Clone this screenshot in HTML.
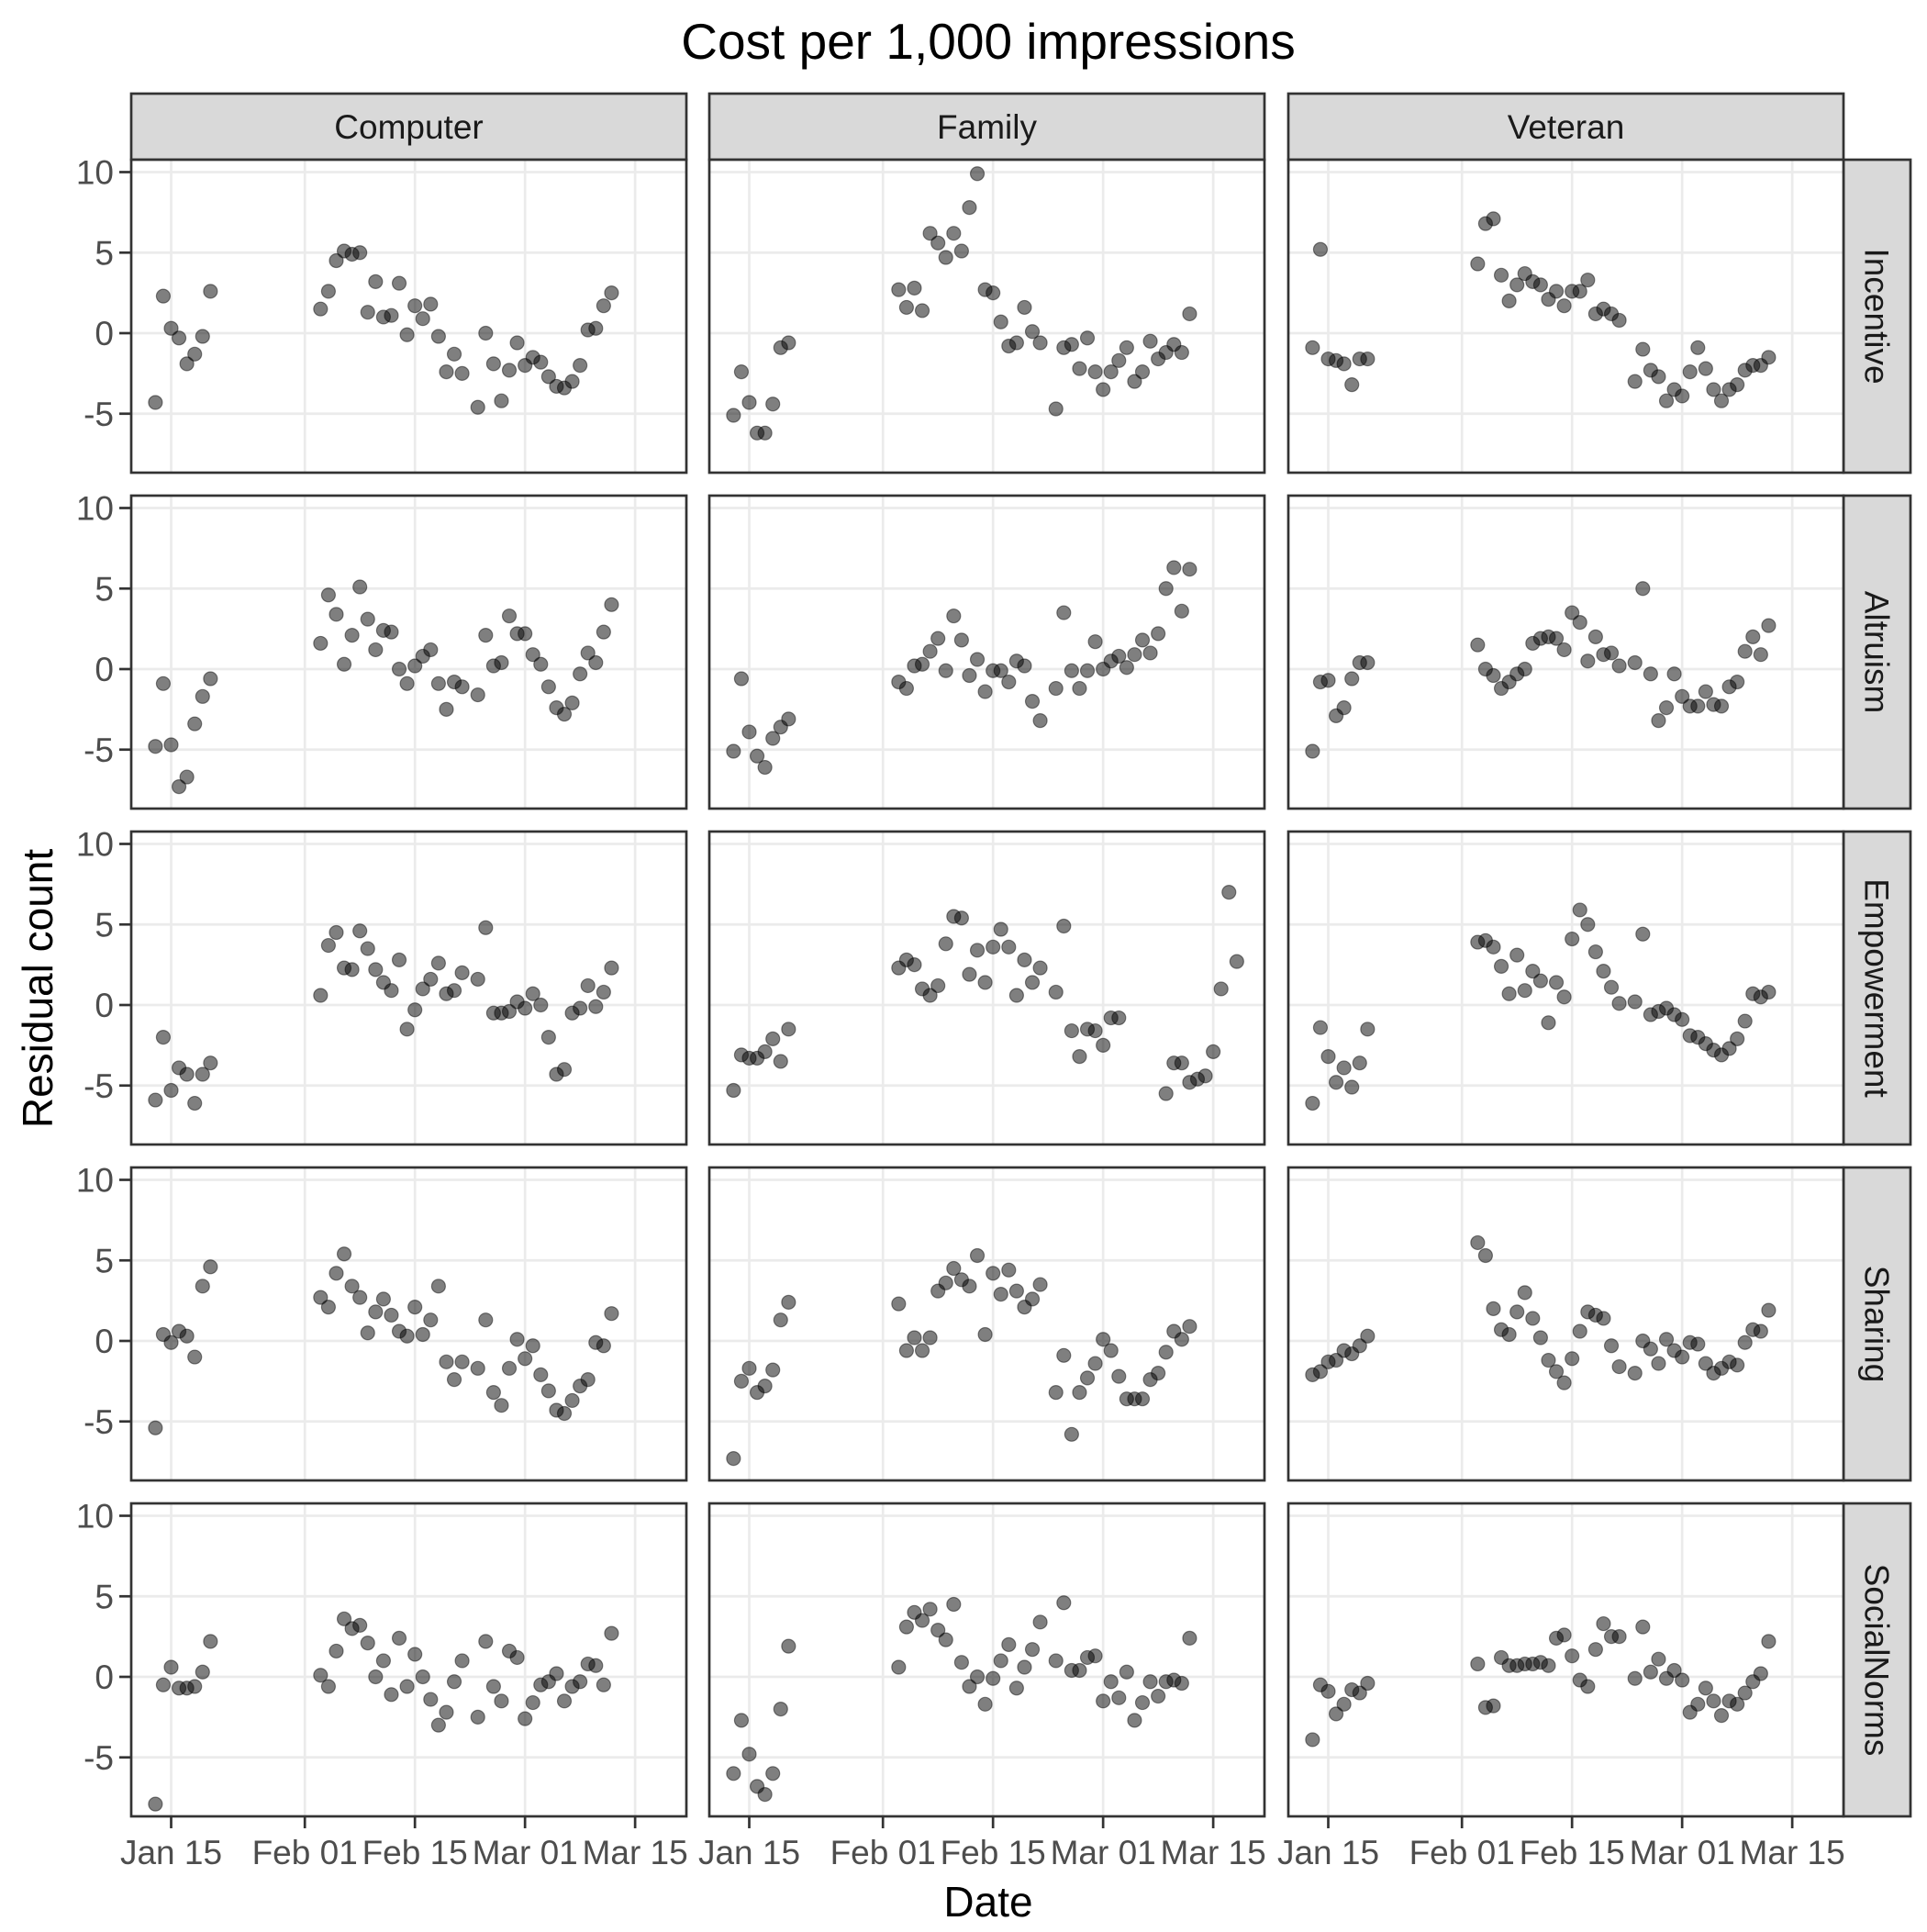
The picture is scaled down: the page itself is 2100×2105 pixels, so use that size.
<!DOCTYPE html>
<html><head><meta charset="utf-8"><style>
html,body{margin:0;padding:0;background:#fff;}
svg text{font-family:"Liberation Sans",Arial,sans-serif;}
</style></head><body>
<svg id="chart" xmlns="http://www.w3.org/2000/svg" width="2100" height="2100" viewBox="0 0 2100 2100">
<rect width="2100" height="2100" fill="#fff"/>
<text x="1077" y="64" font-size="55" text-anchor="middle" fill="#000">Cost per 1,000 impressions</text>
<text x="1077" y="2088" font-size="46" text-anchor="middle" fill="#000">Date</text>
<text x="0" y="0" font-size="46" text-anchor="middle" fill="#000" transform="translate(57,1077) rotate(-90)">Residual count</text>
<g id="panels"></g>
</svg>
<script>
const colNames = ['Computer','Family','Veteran'];
const rowNames = ['Incentive','Altruism','Empowerment','Sharing','SocialNorms'];
const yTicks = [-5,0,5,10];
const xTickDays = [0,17,31,45,59];
const xTickLabels = ['Jan 15','Feb 01','Feb 15','Mar 01','Mar 15'];
const stdDays = [-2,-1,0,1,2,3,4,5,19,20,21,22,23,24,25,26,27,28,29,30,31,32,33,34,35,36,37,39,40,41,42,43,44,45,46,47,48,49,50,51,52,53,54,55,56];
const famEmpDays = [-2,-1,0,1,2,3,4,5,19,20,21,22,23,24,25,26,27,28,29,30,31,32,33,34,35,36,37,39,40,41,42,43,44,45,46,47,53,54,55,56,57,58,59,60,61,62];

const computerIncentive = [-4.3,2.3,0.3,-0.3,-1.9,-1.3,-0.2,2.6, 1.5,2.6,4.5,5.1,4.9,5.0,1.3,3.2,1.0,1.1,3.1,-0.1,1.7,0.9,1.8,-0.2,-2.4,-1.3,-2.5, -4.6,0.0,-1.9,-4.2,-2.3,-0.6,-2.0,-1.5,-1.8,-2.7,-3.3,-3.4,-3.0,-2.0,0.2,0.3,1.7,2.5];
const computerAltruism = [-4.8,-0.9,-4.7,-7.3,-6.7,-3.4,-1.7,-0.6, 1.6,4.6,3.4,0.3,2.1,5.1,3.1,1.2,2.4,2.3,0,-0.9,0.2,0.8,1.2,-0.9,-2.5,-0.8,-1.1, -1.6,2.1,0.2,0.4,3.3,2.2,2.2,0.9,0.3,-1.1,-2.4,-2.8,-2.1,-0.3,1.0,0.4,2.3,4.0];
const computerEmpowerment = [-5.9,-2.0,-5.3,-3.9,-4.3,-6.1,-4.3,-3.6, 0.6,3.7,4.5,2.3,2.2,4.6,3.5,2.2,1.4,0.9,2.8,-1.5,-0.3,1.0,1.6,2.6,0.7,0.9,2.0, 1.6,4.8,-0.5,-0.5,-0.4,0.2,-0.2,0.7,0,-2.0,-4.3,-4.0,-0.5,-0.2,1.2,-0.1,0.8,2.3];
const computerSharing = [-5.4,0.4,-0.1,0.6,0.3,-1.0,3.4,4.6, 2.7,2.1,4.2,5.4,3.4,2.7,0.5,1.8,2.6,1.6,0.6,0.3,2.1,0.4,1.3,3.4,-1.3,-2.4,-1.3, -1.7,1.3,-3.2,-4.0,-1.7,0.1,-1.1,-0.3,-2.1,-3.1,-4.3,-4.5,-3.7,-2.8,-2.4,-0.1,-0.3,1.7];
const computerSocialNorms = [-7.9,-0.5,0.6,-0.7,-0.7,-0.6,0.3,2.2, 0.1,-0.6,1.6,3.6,3.0,3.2,2.1,0,1.0,-1.1,2.4,-0.6,1.4,0,-1.4,-3.0,-2.2,-0.3,1.0, -2.5,2.2,-0.6,-1.5,1.6,1.2,-2.6,-1.6,-0.5,-0.3,0.2,-1.5,-0.6,-0.3,0.8,0.7,-0.5,2.7];
const familyIncentive = [-5.1,-2.4,-4.3,-6.2,-6.2,-4.4,-0.9,-0.6, 2.7,1.6,2.8,1.4,6.2,5.6,4.7,6.2,5.1,7.8,9.9,2.7,2.5,0.7,-0.8,-0.6,1.6,0.1,-0.6, -4.7,-0.9,-0.7,-2.2,-0.3,-2.4,-3.5,-2.4,-1.7,-0.9,-3.0,-2.4,-0.5,-1.6,-1.2,-0.7,-1.2,1.2];
const familyAltruism = [-5.1,-0.6,-3.9,-5.4,-6.1,-4.3,-3.6,-3.1, -0.8,-1.2,0.2,0.3,1.1,1.9,-0.1,3.3,1.8,-0.4,0.6,-1.4,-0.1,-0.1,-0.8,0.5,0.2,-2.0,-3.2, -1.2,3.5,-0.1,-1.2,-0.1,1.7,0,0.5,0.8,0.1,0.9,1.8,1.0,2.2,5.0,6.3,3.6,6.2];
const familyEmpowerment = [-5.3,-3.1,-3.3,-3.3,-2.9,-2.1,-3.5,-1.5, 2.3,2.8,2.5,1.0,0.6,1.2,3.8,5.5,5.4,1.9,3.4,1.4,3.6,4.7,3.6,0.6,2.8,1.4,2.3, 0.8,4.9,-1.6,-3.2,-1.5,-1.6,-2.5,-0.8,-0.8, -5.5,-3.6,-3.6,-4.8,-4.6,-4.4,-2.9,1.0,7.0,2.7];
const familySharing = [-7.3,-2.5,-1.7,-3.2,-2.8,-1.8,1.3,2.4, 2.3,-0.6,0.2,-0.6,0.2,3.1,3.6,4.5,3.8,3.4,5.3,0.4,4.2,2.9,4.4,3.1,2.1,2.6,3.5, -3.2,-0.9,-5.8,-3.2,-2.3,-1.4,0.1,-0.6,-2.2,-3.6,-3.6,-3.6,-2.4,-2.0,-0.7,0.6,0.1,0.9];
const familySocialNorms = [-6.0,-2.7,-4.8,-6.8,-7.3,-6.0,-2.0,1.9, 0.6,3.1,4.0,3.5,4.2,2.9,2.3,4.5,0.9,-0.6,0,-1.7,-0.1,1.0,2.0,-0.7,0.6,1.7,3.4, 1.0,4.6,0.4,0.4,1.2,1.3,-1.5,-0.3,-1.3,0.3,-2.7,-1.6,-0.3,-1.2,-0.3,-0.2,-0.4,2.4];
const veteranIncentive = [-0.9,5.2,-1.6,-1.7,-1.9,-3.2,-1.6,-1.6, 4.3,6.8,7.1,3.6,2.0,3.0,3.7,3.2,3.0,2.1,2.6,1.7,2.6,2.6,3.3,1.2,1.5,1.2,0.8, -3.0,-1.0,-2.3,-2.7,-4.2,-3.5,-3.9,-2.4,-0.9,-2.2,-3.5,-4.2,-3.5,-3.2,-2.3,-2.0,-2.0,-1.5];
const veteranAltruism = [-5.1,-0.8,-0.7,-2.9,-2.4,-0.6,0.4,0.4, 1.5,0,-0.4,-1.2,-0.8,-0.3,0,1.6,1.9,2.0,1.9,1.2,3.5,2.9,0.5,2.0,0.9,1.0,0.2, 0.4,5.0,-0.3,-3.2,-2.4,-0.3,-1.7,-2.3,-2.3,-1.4,-2.2,-2.3,-1.1,-0.8,1.1,2.0,0.9,2.7];
const veteranEmpowerment = [-6.1,-1.4,-3.2,-4.8,-3.9,-5.1,-3.6,-1.5, 3.9,4.0,3.6,2.4,0.7,3.1,0.9,2.1,1.5,-1.1,1.4,0.5,4.1,5.9,5.0,3.3,2.1,1.1,0.1, 0.2,4.4,-0.6,-0.4,-0.2,-0.6,-0.9,-1.9,-2.0,-2.4,-2.8,-3.1,-2.7,-2.1,-1.0,0.7,0.5,0.8];
const veteranSharing = [-2.1,-1.9,-1.3,-1.2,-0.6,-0.8,-0.3,0.3, 6.1,5.3,2.0,0.7,0.4,1.8,3.0,1.4,0.2,-1.2,-1.9,-2.6,-1.1,0.6,1.8,1.6,1.4,-0.3,-1.6, -2.0,0,-0.5,-1.4,0.1,-0.6,-1.0,-0.1,-0.2,-1.4,-2.0,-1.7,-1.3,-1.5,-0.1,0.7,0.6,1.9];
const veteranSocialNorms = [-3.9,-0.5,-0.9,-2.3,-1.7,-0.8,-1.0,-0.4, 0.8,-1.9,-1.8,1.2,0.7,0.7,0.8,0.8,0.9,0.7,2.4,2.6,1.3,-0.2,-0.6,1.7,3.3,2.5,2.5, -0.1,3.1,0.3,1.1,-0.1,0.4,-0.2,-2.2,-1.7,-0.7,-1.5,-2.4,-1.5,-1.7,-1.0,-0.3,0.2,2.2];

const panelValues = [
  [computerIncentive, familyIncentive, veteranIncentive],
  [computerAltruism, familyAltruism, veteranAltruism],
  [computerEmpowerment, familyEmpowerment, veteranEmpowerment],
  [computerSharing, familySharing, veteranSharing],
  [computerSocialNorms, familySocialNorms, veteranSocialNorms]
];
const panelDays = [
  [stdDays, stdDays, stdDays],
  [stdDays, stdDays, stdDays],
  [stdDays, famEmpDays, stdDays],
  [stdDays, stdDays, stdDays],
  [stdDays, stdDays, stdDays]
];

const NS = 'http://www.w3.org/2000/svg';
const root = document.getElementById('panels');
const colLeft = [143, 773, 1404], PW = 605;
const rowTop = [174, 540, 906, 1272, 1638], PH = 341;
const stripX = colLeft[2] + PW;
const axisBottom = rowTop[4] + PH;
function xScale(c, d){ return colLeft[c] + 43.5 + d * 8.57; }
function yScale(r, v){ return rowTop[r] + 189 - v * 17.55; }
function mk(tag, attrs, parent){
  const e = document.createElementNS(NS, tag);
  for (const k in attrs) e.setAttribute(k, attrs[k]);
  parent.appendChild(e); return e;
}

colNames.forEach((name, c) => {
  const g = mk('g', {}, root);
  
  
  mk('rect', {x: colLeft[c], y: 102, width: PW, height: 72, fill: '#d9d9d9', stroke: '#333', 'stroke-width': 2.7}, g);
  const t = mk('text', {x: colLeft[c] + PW/2, y: 151, 'font-size': 37, 'text-anchor': 'middle', fill: '#1a1a1a'}, g);
  t.textContent = name;
});
rowNames.forEach((name, r) => {
  const g = mk('g', {}, root);
  
  
  mk('rect', {x: stripX, y: rowTop[r], width: 73, height: PH, fill: '#d9d9d9', stroke: '#333', 'stroke-width': 2.7}, g);
  const cx = stripX + 36.5, cy = rowTop[r] + PH/2;
  const t = mk('text', {x: 0, y: 0, 'font-size': 37, 'text-anchor': 'middle', fill: '#1a1a1a', transform: 'translate(' + (cx - 13) + ',' + cy + ') rotate(90)'}, g);
  t.textContent = name;
});

for (let r = 0; r < 5; r++) {
  for (let c = 0; c < 3; c++) {
    const g = mk('g', {}, root);
    
    
    mk('rect', {x: colLeft[c], y: rowTop[r], width: PW, height: PH, fill: '#fff'}, g);
    yTicks.forEach(v => {
      const y = yScale(r, v);
      const gl = mk('line', {x1: colLeft[c], x2: colLeft[c] + PW, y1: y, y2: y, stroke: '#ebebeb', 'stroke-width': 2.7}, g);
      
      
    });
    xTickDays.forEach(d => {
      const x = xScale(c, d);
      const gl = mk('line', {x1: x, x2: x, y1: rowTop[r], y2: rowTop[r] + PH, stroke: '#ebebeb', 'stroke-width': 2.7}, g);
      
      
    });
    const vals = panelValues[r][c], days = panelDays[r][c];
    vals.forEach((v, i) => {
      const pt = mk('circle', {cx: xScale(c, days[i]), cy: yScale(r, v), r: 7.5, fill: 'rgba(0,0,0,0.5)', stroke: 'rgba(0,0,0,0.45)', 'stroke-width': 1.2}, g);
      
      
    });
    mk('rect', {x: colLeft[c], y: rowTop[r], width: PW, height: PH, fill: 'none', stroke: '#333', 'stroke-width': 2.7}, g);
    if (c === 0) {
      yTicks.forEach(v => {
        const y = yScale(r, v);
        mk('line', {x1: 130, x2: 143, y1: y, y2: y, stroke: '#333', 'stroke-width': 2.7}, g);
        const t = mk('text', {x: 124, y: y + 13, 'font-size': 37, 'text-anchor': 'end', fill: '#4d4d4d'}, g);
        
        
        t.textContent = String(v);
      });
    }
    if (r === 4) {
      xTickDays.forEach((d, i) => {
        const x = xScale(c, d);
        mk('line', {x1: x, x2: x, y1: axisBottom, y2: axisBottom + 13, stroke: '#333', 'stroke-width': 2.7}, g);
        const t = mk('text', {x: x, y: axisBottom + 52, 'font-size': 37, 'text-anchor': 'middle', fill: '#4d4d4d'}, g);
        
        
        t.textContent = xTickLabels[i];
      });
    }
  }
}
</script>
</body></html>
